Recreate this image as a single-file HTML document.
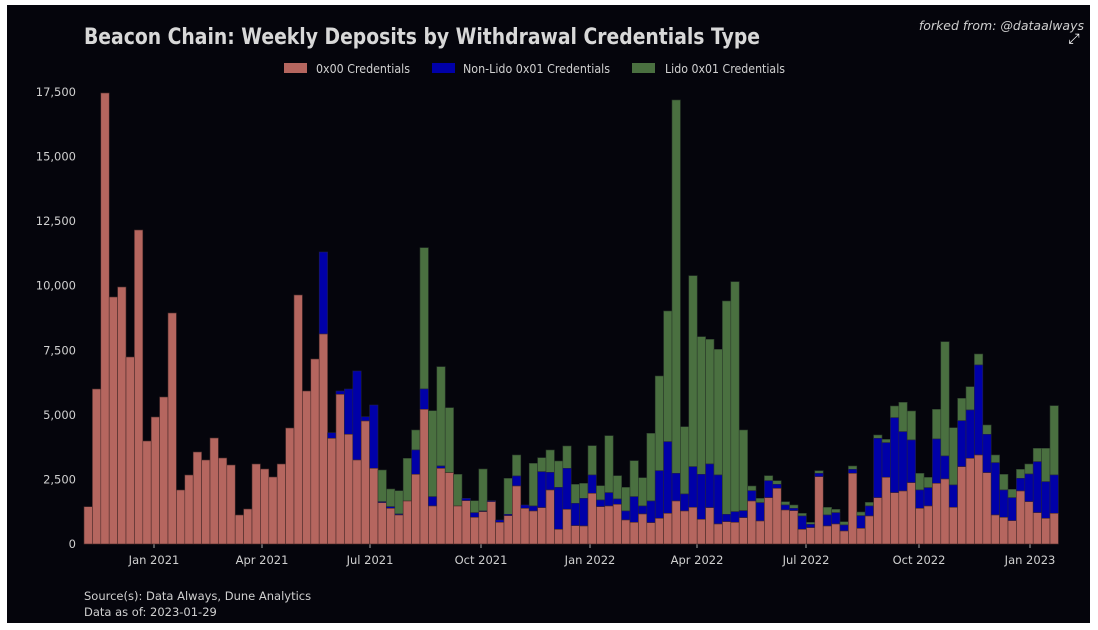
<!DOCTYPE html>
<html><head><meta charset="utf-8"><style>
html,body{margin:0;padding:0;background:#fff;}
svg{display:block;}
text{font-family:"DejaVu Sans","Liberation Sans",sans-serif;}
</style></head><body>
<svg id="c" width="1098" height="630" xmlns="http://www.w3.org/2000/svg">
<rect x="0" y="0" width="1098" height="630" fill="#ffffff"/>
<rect x="7" y="5" width="1083" height="618" fill="#05050c"/>
<text x="84" y="44" fill="#d8d8d8" font-family="Liberation Sans, sans-serif" font-weight="bold" font-size="22" textLength="676" lengthAdjust="spacingAndGlyphs">Beacon Chain: Weekly Deposits by Withdrawal Credentials Type</text>
<text x="1084" y="30" fill="#cfcfcf" font-style="italic" font-size="12.5" text-anchor="end" font-family="Liberation Sans, sans-serif">forked from: @dataalways</text>
<text x="1074" y="43" fill="#fff" font-size="14" text-anchor="middle">⤢</text>
<rect x="284" y="63" width="23" height="10" fill="#b5665f"/>
<text x="316" y="73" fill="#d0d0d0" font-size="12.5" textLength="94" lengthAdjust="spacingAndGlyphs">0x00 Credentials</text>
<rect x="432" y="63" width="23" height="10" fill="#0000a8"/>
<text x="463" y="73" fill="#d0d0d0" font-size="12.5" textLength="147" lengthAdjust="spacingAndGlyphs">Non-Lido 0x01 Credentials</text>
<rect x="632" y="63" width="23" height="10" fill="#4a7040"/>
<text x="665" y="73" fill="#d0d0d0" font-size="12.5" textLength="120" lengthAdjust="spacingAndGlyphs">Lido 0x01 Credentials</text>
<g id="yl" fill="#d0d0d0" font-size="11.5" text-anchor="end"></g>
<g id="bars"></g>
<g id="xl" fill="#d0d0d0" font-size="11.5" text-anchor="middle"></g>
<text x="84" y="600" fill="#d0d0d0" font-size="11.5" font-family="Liberation Sans, sans-serif">Source(s): Data Always, Dune Analytics</text>
<text x="84" y="616" fill="#d0d0d0" font-size="11.5" font-family="Liberation Sans, sans-serif">Data as of: 2023-01-29</text>
</svg>
<script>
var NS="http://www.w3.org/2000/svg";
function el(t,a,p,txt){var e=document.createElementNS(NS,t);for(var k in a)e.setAttribute(k,a[k]);if(txt)e.textContent=txt;document.getElementById(p).appendChild(e);}
var base=544,step=64.57;
var yl=["0","2,500","5,000","7,500","10,000","12,500","15,000","17,500"];
for(var i=0;i<8;i++){el("text",{x:76,y:base-i*step+4},"yl",yl[i]);}
var xt=[["Jan 2021",154],["Apr 2021",262],["Jul 2021",370],["Oct 2021",481],["Jan 2022",590],["Apr 2022",697],["Jul 2022",806],["Oct 2022",919],["Jan 2023",1030]];
xt.forEach(function(t){el("line",{x1:t[1],x2:t[1],y1:544,y2:548,stroke:"#aaa","stroke-width":1},"bars");el("text",{x:t[1],y:564},"xl",t[0]);});
var P1=[506.7,389,93,297,287,357,230,441,417,397,313,490,475,452,460,438,458,465,515,509,464,469,477,464,428,295,391,359];
var D=[];P1.forEach(function(p){D.push([p,p,p]);});
D=D.concat([[334,252,252],[438.3,432.7,432.7],[394.3,391,391],[434.3,389,389],[460,371,371],[421,416.7,416.7],[468.3,405,405],
[502.7,501.7,470],[508.3,506.7,489],[515,514,490.7],[501,501,458.3],[474.3,450,430],[409.3,389,247.7],[506,496.7,410.7],[468.3,466,366.7],[472.7,472.7,407.7],[506,506,474.3],[500.7,498.3,498.3],[517.3,512.7,500.7],[511.7,511,469],[501.7,500.7,500.7],[522.3,520,520],[515.7,514.3,478.3],[486,476,455],[508.3,505,505],[511,506,463.3],[507.7,471.7,457.7],[490,472.3,450],[529.3,487.3,461],[509.3,468.3,446],
[525.7,503.3,484.3],[526,498.3,483.3],[493.3,475,445.7],[506.7,500,485.7],[506,492.7,435.7],[504.3,499,475.7],[520,511,487.3],[522.3,496.7,460.7],[514,506,477.7],[522.7,501,433.3],[518.3,470.7,376],[513.3,441.7,311],[501,473.3,100],[511,494,426.7],[507.3,466.7,275.7],[519.3,474.3,336.7],[507.7,464,339.3],[524,475,349.3],[521.7,514.3,301],[522.3,511.7,281.7],[517.7,510.7,430],[501,490.7,486],[521,502.7,498.3],[497.7,480.7,475.7],[488.3,484.3,480.7],[510,505,501.7],[510.7,508.3,505],[529.3,516,513.3],[527.7,524.3,522.3],
[476.7,473.3,470.7],[526,515,507.3],[524,512.7,509.3],[531,525,521.7],[473.3,469.3,466],[528.3,515.7,512],[516,506,502.3],[497.7,438.3,435],[477.3,442.7,439.3],[492.7,417.7,406],[491,431.7,402.3],[482.7,440,411],[508.3,490,473.3],[506,487.7,477.3],[483.3,439,409.3],[479,456,341.7],[507.3,485,427.7],[466.7,420.7,398.3],[458.3,410,386.7],[455,365,354],[472.7,434.3,425],[515,462.7,455],[517.3,490,474.3],[520.7,497.7,489.3],[491,478.3,469.3],[501.7,474,464],[512.7,461.7,448.3],[518.3,481.7,448.3],[513.3,475,405.7]]);
var w=8.4;
D.forEach(function(d,i){var x=84+i*w;
 if(d[0]-d[2]>0.3&&d[1]-d[2]>0.3)el("rect",{x:x,y:d[2],width:w,height:d[1]-d[2],fill:"#4a7040",stroke:"#2a3a2a","stroke-width":0.6},"bars");
 if(d[0]-d[1]>0.3)el("rect",{x:x,y:d[1],width:w,height:d[0]-d[1],fill:"#0000a8",stroke:"#20204a","stroke-width":0.6},"bars");
 el("rect",{x:x,y:d[0],width:w,height:base-d[0],fill:"#b5665f",stroke:"#4a2a2a","stroke-width":0.6},"bars");
});
</script>
</body></html>
